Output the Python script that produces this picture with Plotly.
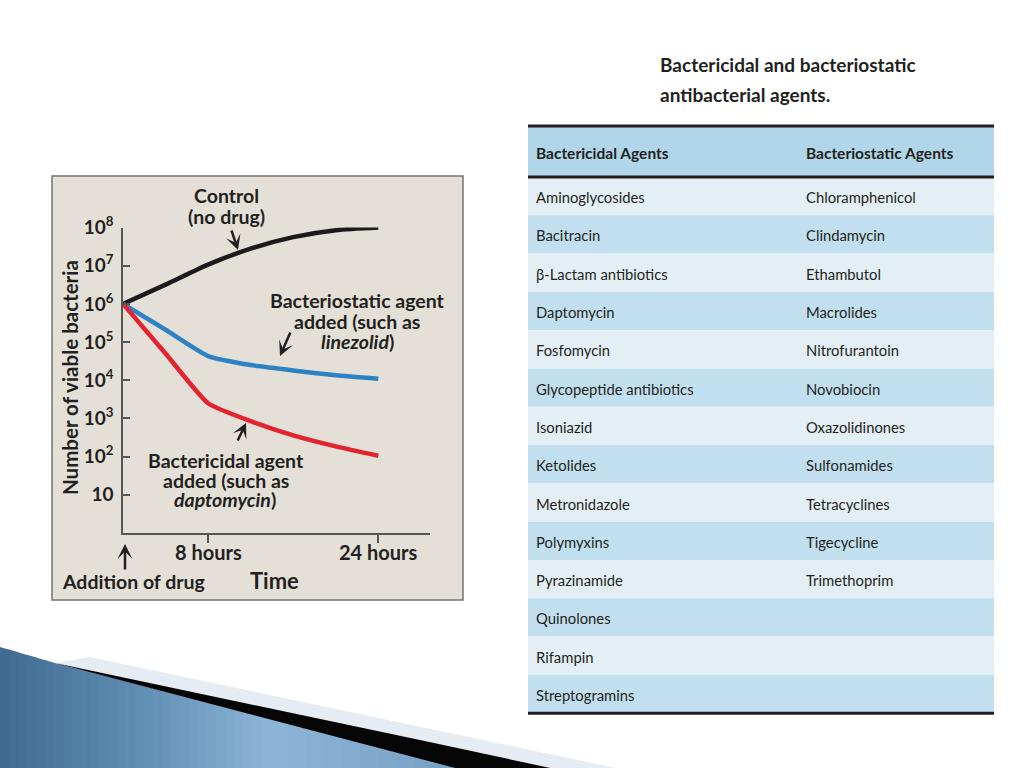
import plotly.graph_objects as go

# ---------------- data ----------------
hours = [0, 4, 8, 12, 16, 20, 24]
control = [1e6, 3.2e6, 1.07e7, 2.8e7, 5.6e7, 8.5e7, 1e8]
bacteriostatic_curve = [1e6, 2.1e5, 4.3e4, 2.5e4, 1.8e4, 1.35e4, 1.1e4]
bactericidal_curve = [1e6, 5e4, 2.5e3, 8.5e2, 3.6e2, 1.85e2, 1.05e2]

y_tickvals = [10, 1e2, 1e3, 1e4, 1e5, 1e6, 1e7, 1e8]
y_ticktext = ["10", "10<sup>2</sup>", "10<sup>3</sup>", "10<sup>4</sup>",
              "10<sup>5</sup>", "10<sup>6</sup>", "10<sup>7</sup>", "10<sup>8</sup>"]
x_tickvals = [8, 24]
x_ticktext = ["8 hours", "24 hours"]

table_title = ["Bactericidal and bacteriostatic", "antibacterial agents."]
table_header = ["Bactericidal Agents", "Bacteriostatic Agents"]
bactericidal_agents = ["Aminoglycosides", "Bacitracin", "β-Lactam antibiotics", "Daptomycin",
                       "Fosfomycin", "Glycopeptide antibiotics", "Isoniazid", "Ketolides",
                       "Metronidazole", "Polymyxins", "Pyrazinamide", "Quinolones",
                       "Rifampin", "Streptogramins"]
bacteriostatic_agents = ["Chloramphenicol", "Clindamycin", "Ethambutol", "Macrolides",
                         "Nitrofurantoin", "Novobiocin", "Oxazolidinones", "Sulfonamides",
                         "Tetracyclines", "Tigecycline", "Trimethoprim", "", "", ""]

# ---------------- helpers ----------------
W, H = 1024, 768
def px(x):
    return x / W
def py(y):
    return 1 - y / H

CHART_FONT = "Lato, 'Open Sans', sans-serif"
TABLE_FONT = "Lato, 'Open Sans', sans-serif"
INK = "#231f20"
HEADER_FILL = "#b2d6e9"
ROW_LIGHT = "#e3eff5"
ROW_DARK = "#c1dfee"
ROW_H = 38.3
TABLE_TOP, HEADER_BOTTOM = 126, 177

fig = go.Figure()

fig.add_trace(go.Scatter(x=hours, y=control, mode="lines",
                         line=dict(color="#1c1a1a", width=4.5, shape="spline", smoothing=0.7),
                         hoverinfo="skip", showlegend=False))
fig.add_trace(go.Scatter(x=hours, y=bacteriostatic_curve, mode="lines",
                         line=dict(color="#2d82c4", width=4.5, shape="spline", smoothing=0.5),
                         hoverinfo="skip", showlegend=False))
fig.add_trace(go.Scatter(x=hours, y=bactericidal_curve, mode="lines",
                         line=dict(color="#e3232f", width=4.5, shape="spline", smoothing=0.5),
                         hoverinfo="skip", showlegend=False))

n = len(bactericidal_agents)
CLEAR = "rgba(0,0,0,0)"
# table text is top-aligned by plotly; offset the table so text sits centred in the striped rows
text_shift = 7
fig.add_trace(go.Table(
    domain=dict(x=[px(528), px(994)],
                y=[py(HEADER_BOTTOM + text_shift + n * ROW_H + 1), py(139)]),
    columnwidth=[270, 196],
    header=dict(values=table_header, align="left", height=HEADER_BOTTOM + text_shift - 139,
                fill_color=CLEAR, line=dict(color=CLEAR, width=0),
                font=dict(family=TABLE_FONT, size=15.5, color=INK, weight="bold")),
    cells=dict(values=[bactericidal_agents, bacteriostatic_agents], align="left", height=ROW_H,
               fill_color=CLEAR, line=dict(color=CLEAR, width=0),
               font=dict(family=TABLE_FONT, size=14.8, color=INK)),
))

shapes = []
# chart panel background
shapes.append(dict(type="rect", xref="paper", yref="paper", x0=px(52), x1=px(463), y0=py(600), y1=py(176),
                   fillcolor="#e5e0d7", line=dict(color="#77736e", width=1.5), layer="below"))
# table header band and striped row bands
shapes.append(dict(type="rect", xref="paper", yref="paper", x0=px(528), x1=px(994),
                   y0=py(HEADER_BOTTOM), y1=py(TABLE_TOP),
                   fillcolor=HEADER_FILL, line=dict(width=0), layer="below"))
for i in range(n):
    shapes.append(dict(type="rect", xref="paper", yref="paper", x0=px(528), x1=px(994),
                       y0=py(HEADER_BOTTOM + (i + 1) * ROW_H), y1=py(HEADER_BOTTOM + i * ROW_H),
                       fillcolor=ROW_LIGHT if i % 2 == 0 else ROW_DARK, line=dict(width=0),
                       layer="below"))

# bottom-left decoration: blue gradient strips
def top_edge(x):
    if x <= 55:
        return 647 + (663 - 647) * x / 55
    return 663 + (768 - 663) * (x - 55) / (459 - 55)

stops = [(0, (63, 107, 146)), (140, (96, 141, 180)), (270, (141, 181, 214)), (459, (120, 160, 196))]
def col(x):
    for (x0, c0), (x1, c1) in zip(stops[:-1], stops[1:]):
        if x0 <= x <= x1:
            t = (x - x0) / (x1 - x0)
            return "rgb(%d,%d,%d)" % tuple(round(a + (b - a) * t) for a, b in zip(c0, c1))
    return "rgb(%d,%d,%d)" % stops[-1][1]

step = 9
xs = list(range(0, 459, step)) + [459]
for a, b in zip(xs[:-1], xs[1:]):
    b2 = min(b + 1, 459)
    path = "M %f,%f L %f,%f L %f,%f L %f,%f Z" % (px(a), py(top_edge(a)), px(b2), py(top_edge(b2)),
                                                 px(b2), py(769), px(a), py(769))
    shapes.append(dict(type="path", xref="paper", yref="paper", path=path,
                       fillcolor=col((a + b) / 2), line=dict(width=0), layer="below"))
# light wedge
shapes.append(dict(type="path", xref="paper", yref="paper",
                   path="M %f,%f L %f,%f L %f,%f L %f,%f Z" % (px(90), py(657), px(620), py(769),
                                                              px(553), py(769), px(55), py(663)),
                   fillcolor="#e6ecf3", line=dict(width=0), layer="below"))
# black wedge
shapes.append(dict(type="path", xref="paper", yref="paper",
                   path="M %f,%f L %f,%f L %f,%f L %f,%f Z" % (px(55), py(663), px(420), py(740),
                                                              px(555), py(769), px(459), py(769)),
                   fillcolor="#050505", line=dict(width=0), layer="below"))
# table rules
for yy in [TABLE_TOP, HEADER_BOTTOM, HEADER_BOTTOM + n * ROW_H]:
    shapes.append(dict(type="line", xref="paper", yref="paper", x0=px(528), x1=px(994),
                       y0=py(yy), y1=py(yy), line=dict(color=INK, width=3), layer="above"))

annotations = []
def txt(text, x, y, size=19.5, xanchor="center", yanchor="middle", bold=True,
        family=CHART_FONT, angle=0, xref="paper"):
    annotations.append(dict(text=text, x=x if xref == "x" else px(x), y=py(y), xref=xref, yref="paper",
                            xanchor=xanchor, yanchor=yanchor, showarrow=False, textangle=angle,
                            font=dict(family=family, size=size, color=INK,
                                      weight="bold" if bold else "normal")))

txt("Control", 226, 196)
txt("(no drug)", 226, 216)
txt("Bacteriostatic agent", 357, 301)
txt("added (such as", 357, 321)
txt("<i>linezolid</i>)", 357, 341)
txt("Bactericidal agent", 226, 460)
txt("added (such as", 226, 480)
txt("<i>daptomycin</i>)", 225, 499)
txt("Addition of drug", 133, 581)
txt("Time", 274, 580, size=22)
txt("Number of viable bacteria", 70, 378, size=20.5, angle=-90)
txt(table_title[0], 658, 64, size=19, xanchor="left", family=TABLE_FONT)
txt(table_title[1], 658, 95, size=19, xanchor="left", family=TABLE_FONT)
# x tick labels (placed at their tick values on the x axis)
for v, t in zip(x_tickvals, x_ticktext):
    txt(t, v, 552, size=20, xref="x")

def arrow(hx, hy, tx, ty):
    annotations.append(dict(text="", x=px(hx), y=py(hy), xref="paper", yref="paper",
                            ax=tx - hx, ay=ty - hy, axref="pixel", ayref="pixel",
                            showarrow=True, arrowhead=3, arrowsize=1, arrowwidth=2.5,
                            arrowcolor=INK))

arrow(238, 250, 231, 229)
arrow(280, 356, 291, 331)
arrow(246, 423, 237, 442)
arrow(125, 544, 125, 571)

fig.update_layout(
    width=W, height=H, margin=dict(l=0, r=0, t=0, b=0, pad=0, autoexpand=False),
    paper_bgcolor="white", plot_bgcolor="rgba(0,0,0,0)",
    shapes=shapes, annotations=annotations, showlegend=False,
    xaxis=dict(domain=[px(123), px(430)], range=[0, 28.86], showgrid=False, zeroline=False,
               showline=True, linecolor="#555", linewidth=1.5, automargin=False,
               tickvals=x_tickvals, ticktext=x_ticktext, showticklabels=False,
               ticks="outside", ticklen=8, tickcolor="#555", tickwidth=1.5),
    yaxis=dict(domain=[py(533), py(227.5)], type="log", range=[0, 8], showgrid=False,
               zeroline=False, showline=True, linecolor="#555", linewidth=1.5, automargin=False,
               tickvals=y_tickvals, ticktext=y_ticktext, ticks="inside", ticklen=7,
               tickcolor="#555", tickwidth=1.5, ticklabelstandoff=4,
               tickfont=dict(family=CHART_FONT, size=19, color=INK, weight="bold")),
)

fig.write_html("out.html", config={"displayModeBar": False},
               post_script="document.body.style.margin='0';document.body.style.overflow='hidden';")
